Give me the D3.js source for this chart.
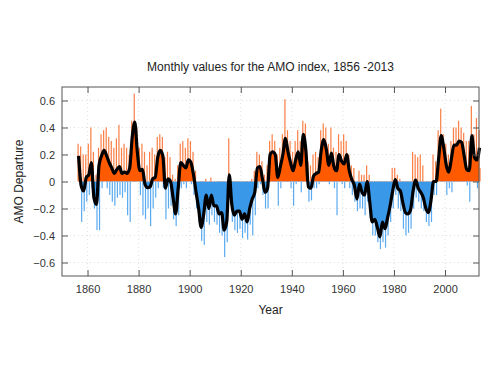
<!DOCTYPE html>
<html>
<head>
<meta charset="utf-8">
<script src="https://cdn.jsdelivr.net/npm/d3@7/dist/d3.min.js"></script>
<style>
  body { margin: 0; background: #fff; }
  svg { display: block; font-family: "Liberation Sans", Arial, sans-serif; }
</style>
</head>
<body>
<svg id="chart" width="500" height="375"></svg>
<script>
// Years covered (first year of series)
const startYear = 1856;
// Smoothed AMO departure (approx. one value per year, 1856-2013)
const smoothValues = [
  0.19,-0.03,-0.07,0.03,0.05,0.14,-0.12,-0.17,0.12,0.19,
  0.23,0.19,0.14,0.10,0.06,0.09,0.11,0.06,0.07,0.06,
  0.10,0.33,0.44,0.22,0.08,0.09,-0.02,-0.045,-0.04,0.02,
  0.03,0.18,0.23,0.19,-0.05,0.02,0.0,-0.12,-0.24,-0.05,
  0.14,0.12,0.10,0.16,0.14,0.05,-0.08,-0.20,-0.34,-0.24,
  -0.10,-0.20,-0.10,-0.18,-0.18,-0.24,-0.23,-0.36,-0.30,0.05,
  -0.17,-0.25,-0.22,-0.22,-0.28,-0.24,-0.30,-0.20,-0.13,-0.08,
  0.10,0.11,0.02,-0.08,-0.05,0.20,0.22,0.20,0.03,0.11,
  0.20,0.32,0.22,0.14,0.08,0.16,0.22,0.12,0.35,0.23,
  -0.04,-0.05,0.04,0.06,0.07,0.23,0.31,0.24,0.12,0.21,
  0.11,0.08,0.20,0.15,0.13,0.20,0.08,0.015,-0.03,-0.13,
  -0.02,-0.08,-0.10,0.0,-0.15,-0.30,-0.28,-0.34,-0.41,-0.30,
  -0.35,-0.27,-0.18,-0.07,0.015,-0.05,-0.07,-0.16,-0.23,-0.24,
  -0.21,-0.07,0.01,-0.05,-0.08,-0.12,-0.20,-0.23,-0.14,0.0,
  0.0,0.17,0.34,0.25,0.12,0.07,0.17,0.27,0.27,0.30,
  0.29,0.19,0.09,0.08,0.34,0.18,0.16,0.25
];
// Highest monthly value within each year
const monthlyHigh = [
  0.28,0.26,0.20,0.20,0.28,0.40,0.22,0.05,0.25,0.35,
  0.38,0.40,0.33,0.30,0.25,0.32,0.42,0.25,0.28,0.25,
  0.20,0.45,0.65,0.40,0.25,0.28,0.22,0.12,0.22,0.25,
  0.20,0.33,0.35,0.33,0.18,0.22,0.18,0.05,0.02,0.12,
  0.28,0.30,0.25,0.32,0.30,0.22,0.08,0.0,-0.10,-0.05,
  0.02,0.0,0.03,0.0,0.0,-0.05,-0.05,-0.15,-0.10,0.32,
  0.0,-0.05,-0.05,-0.05,-0.10,-0.08,-0.10,-0.05,0.02,0.08,
  0.22,0.20,0.15,0.05,0.12,0.30,0.35,0.30,0.20,0.25,
  0.35,0.61,0.38,0.30,0.22,0.30,0.38,0.30,0.45,0.43,
  0.15,0.12,0.20,0.22,0.18,0.38,0.43,0.40,0.28,0.40,
  0.25,0.22,0.35,0.30,0.35,0.30,0.20,0.12,0.10,0.0,
  0.08,0.05,0.05,0.12,0.05,-0.12,-0.10,-0.18,-0.20,-0.15,
  -0.18,-0.10,-0.02,0.10,0.10,0.05,0.02,-0.02,-0.05,-0.08,
  -0.05,0.22,0.20,0.18,0.20,0.12,0.0,-0.08,0.0,0.20,
  0.15,0.38,0.54,0.35,0.28,0.20,0.30,0.40,0.40,0.45,
  0.40,0.36,0.30,0.30,0.56,0.35,0.47,0.38
];
// Lowest monthly value within each year
const monthlyLow = [
  0.05,-0.30,-0.22,-0.15,-0.10,-0.05,-0.20,-0.36,-0.36,-0.05,
  0.0,-0.05,-0.10,-0.15,-0.18,-0.12,-0.10,-0.12,-0.08,-0.25,
  -0.30,0.10,0.20,0.0,-0.10,-0.25,-0.28,-0.20,-0.33,-0.20,
  -0.12,-0.05,0.05,-0.05,-0.28,-0.20,-0.18,-0.28,-0.33,-0.25,
  -0.05,-0.02,-0.05,0.0,-0.02,-0.10,-0.20,-0.30,-0.44,-0.47,
  -0.30,-0.32,-0.25,-0.30,-0.32,-0.38,-0.40,-0.56,-0.45,-0.10,
  -0.30,-0.36,-0.38,-0.35,-0.42,-0.38,-0.43,-0.32,-0.40,-0.25,
  -0.05,-0.02,-0.10,-0.20,-0.20,0.05,0.08,0.05,-0.18,-0.05,
  0.02,0.12,0.05,-0.05,-0.18,-0.02,0.05,-0.08,0.15,0.05,
  -0.15,-0.14,-0.05,-0.05,-0.02,0.05,0.15,0.05,-0.02,0.02,
  -0.05,-0.25,0.05,-0.02,-0.05,0.05,-0.05,-0.10,-0.15,-0.22,
  -0.20,-0.20,-0.25,-0.15,-0.27,-0.40,-0.40,-0.45,-0.50,-0.45,
  -0.49,-0.40,-0.30,-0.20,-0.10,-0.20,-0.22,-0.35,-0.40,-0.38,
  -0.35,-0.20,-0.12,-0.15,-0.20,-0.22,-0.30,-0.33,-0.30,-0.10,
  -0.10,0.0,0.10,0.05,-0.10,-0.05,-0.08,0.10,0.10,0.15,
  0.10,0.05,-0.03,-0.15,0.15,0.02,-0.05,0.10
];
const xTicks = [1860, 1880, 1900, 1920, 1940, 1960, 1980, 2000];
const yTicks = [-0.6, -0.4, -0.2, 0, 0.2, 0.4, 0.6];
const titleText = "Monthly values for the AMO index, 1856 -2013";
const xLabel = "Year";
const yLabel = "AMO Departure";

const data = smoothValues.map((v, i) => ({
  year: startYear + i, smooth: v, hi: monthlyHigh[i], lo: monthlyLow[i]
}));

const pL = 62, pR = 479, pT = 87, pB = 276;
const svg = d3.select("#chart");
const x = d3.scaleLinear().domain([1850, 2013.3]).range([pL, pR]);
const y = d3.scaleLinear().domain([-0.7, 0.7]).range([pB, pT]);

const orange = "#ff5a00", blue = "#3a98e8";
const orangeLight = "#fa7f45", blueLight = "#5aaaf0";

// grid
const grid = svg.append("g");
grid.selectAll("line.vx").data(xTicks).join("line")
  .attr("x1", d => x(d)).attr("x2", d => x(d)).attr("y1", pT).attr("y2", pB)
  .attr("stroke", "#d8d8d8").attr("stroke-width", 0.8).attr("stroke-dasharray", "1,3");
grid.selectAll("line.hy").data(yTicks).join("line")
  .attr("x1", pL).attr("x2", pR).attr("y1", d => y(d)).attr("y2", d => y(d))
  .attr("stroke", "#d8d8d8").attr("stroke-width", 0.8).attr("stroke-dasharray", "1,3");

// monthly extreme bars (spikes)
const bars = svg.append("g");
bars.selectAll("rect.hi").data(data).join("rect")
  .attr("x", d => x(d.year + 0.3) - 0.6).attr("width", 1.2)
  .attr("y", d => Math.min(y(d.hi), y(0))).attr("height", d => Math.abs(y(d.hi) - y(0)))
  .attr("fill", d => d.hi >= 0 ? orangeLight : blueLight);
bars.selectAll("rect.lo").data(data).join("rect")
  .attr("x", d => x(d.year + 0.7) - 0.6).attr("width", 1.2)
  .attr("y", d => Math.min(y(d.lo), y(0))).attr("height", d => Math.abs(y(d.lo) - y(0)))
  .attr("fill", d => d.lo >= 0 ? orangeLight : blueLight);

// dense monthly fill as area split at zero
const defs = svg.append("defs");
defs.append("clipPath").attr("id", "pos").append("rect")
  .attr("x", pL).attr("y", pT).attr("width", pR - pL).attr("height", y(0) - pT);
defs.append("clipPath").attr("id", "neg").append("rect")
  .attr("x", pL).attr("y", y(0)).attr("width", pR - pL).attr("height", pB - y(0));

const area = d3.area().x(d => x(d.year + 0.5)).y0(y(0)).y1(d => y(d.smooth)).curve(d3.curveMonotoneX);
svg.append("path").datum(data).attr("d", area).attr("fill", orange).attr("clip-path", "url(#pos)");
svg.append("path").datum(data).attr("d", area).attr("fill", blue).attr("clip-path", "url(#neg)");

// smoothed line
const line = d3.line().x(d => x(d.year + 0.5)).y(d => y(d.smooth)).curve(d3.curveMonotoneX);
svg.append("path").datum(data).attr("d", line).attr("fill", "none")
  .attr("stroke", "#000").attr("stroke-width", 3.2).attr("stroke-linejoin", "round");

// frame
svg.append("rect").attr("x", pL).attr("y", pT).attr("width", pR - pL).attr("height", pB - pT)
  .attr("fill", "none").attr("stroke", "#555").attr("stroke-width", 1);

// axes with inward ticks
const tickLen = 6;
const xb = svg.append("g").attr("transform", `translate(0,${pB})`)
  .call(d3.axisBottom(x).tickValues(xTicks).tickSizeInner(-tickLen).tickSizeOuter(0).tickPadding(9).tickFormat(d3.format("d")));
const xt = svg.append("g").attr("transform", `translate(0,${pT})`)
  .call(d3.axisTop(x).tickValues(xTicks).tickSizeInner(-tickLen).tickSizeOuter(0).tickFormat(""));
const yl = svg.append("g").attr("transform", `translate(${pL},0)`)
  .call(d3.axisLeft(y).tickValues(yTicks).tickSizeInner(-tickLen).tickSizeOuter(0).tickPadding(7)
    .tickFormat(d => d === 0 ? "0" : d3.format(".1f")(d)));
const yr = svg.append("g").attr("transform", `translate(${pR},0)`)
  .call(d3.axisRight(y).tickValues(yTicks).tickSizeInner(-tickLen).tickSizeOuter(0).tickFormat(""));
[xb, xt, yl, yr].forEach(g => {
  g.select(".domain").remove();
  g.selectAll(".tick line").attr("stroke", "#555");
  g.selectAll("text").attr("fill", "#333").style("font-size", "11px")
    .style("font-family", "'Liberation Sans', Arial, sans-serif");
});

// labels
svg.append("text").attr("x", (pL + pR) / 2).attr("y", 71).attr("text-anchor", "middle")
  .style("font-size", "12px").attr("fill", "#222").text(titleText);
svg.append("text").attr("x", (pL + pR) / 2).attr("y", 314).attr("text-anchor", "middle")
  .style("font-size", "12px").attr("fill", "#222").text(xLabel);
svg.append("text").attr("transform", `translate(23,${y(0)}) rotate(-90)`).attr("text-anchor", "middle")
  .style("font-size", "12px").attr("fill", "#222").text(yLabel);
</script>
</body>
</html>
